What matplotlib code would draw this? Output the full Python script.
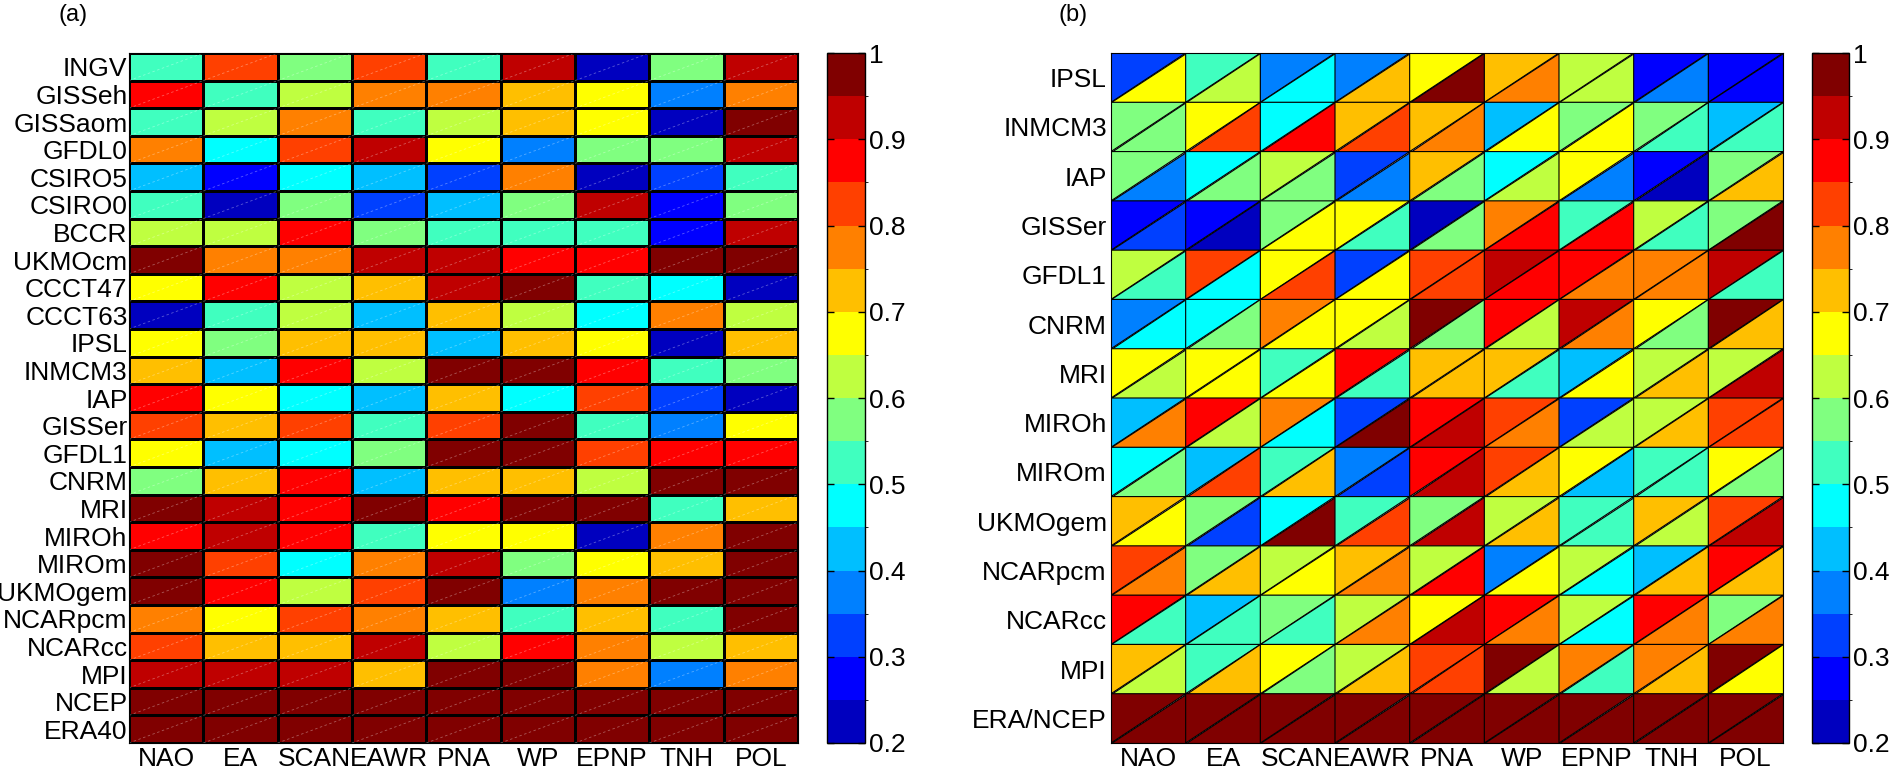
import numpy as np
import matplotlib
matplotlib.use("Agg")
import matplotlib.pyplot as plt
import matplotlib.tri as mtri
from matplotlib.colors import ListedColormap, BoundaryNorm

plt.rcParams['font.family'] = ['Liberation Sans', 'DejaVu Sans']

# ---- data ----
indices = ['NAO', 'EA', 'SCAN', 'EAWR', 'PNA', 'WP', 'EPNP', 'TNH', 'POL']

models_a = ['INGV', 'GISSeh', 'GISSaom', 'GFDL0', 'CSIRO5', 'CSIRO0', 'BCCR',
            'UKMOcm', 'CCCT47', 'CCCT63', 'IPSL', 'INMCM3', 'IAP', 'GISSer',
            'GFDL1', 'CNRM', 'MRI', 'MIROh', 'MIROm', 'UKMOgem', 'NCARpcm',
            'NCARcc', 'MPI', 'NCEP', 'ERA40']

vals_a = [
    [0.52, 0.82, 0.57, 0.82, 0.52, 0.92, 0.22, 0.57, 0.92],
    [0.87, 0.52, 0.62, 0.77, 0.77, 0.72, 0.67, 0.37, 0.77],
    [0.52, 0.62, 0.77, 0.52, 0.62, 0.72, 0.67, 0.22, 0.97],
    [0.77, 0.47, 0.82, 0.92, 0.67, 0.37, 0.57, 0.57, 0.92],
    [0.42, 0.27, 0.47, 0.42, 0.32, 0.77, 0.22, 0.32, 0.52],
    [0.52, 0.22, 0.57, 0.32, 0.42, 0.57, 0.92, 0.27, 0.57],
    [0.62, 0.62, 0.87, 0.57, 0.52, 0.52, 0.52, 0.27, 0.92],
    [0.97, 0.77, 0.77, 0.92, 0.92, 0.87, 0.87, 0.97, 0.97],
    [0.67, 0.87, 0.62, 0.72, 0.92, 0.97, 0.52, 0.47, 0.22],
    [0.22, 0.52, 0.62, 0.42, 0.72, 0.62, 0.47, 0.77, 0.62],
    [0.67, 0.57, 0.72, 0.72, 0.42, 0.72, 0.67, 0.22, 0.72],
    [0.72, 0.42, 0.87, 0.62, 0.97, 0.97, 0.87, 0.52, 0.57],
    [0.87, 0.67, 0.47, 0.42, 0.72, 0.47, 0.82, 0.32, 0.22],
    [0.82, 0.72, 0.82, 0.52, 0.82, 0.97, 0.52, 0.37, 0.67],
    [0.67, 0.42, 0.47, 0.57, 0.97, 0.97, 0.82, 0.87, 0.87],
    [0.57, 0.72, 0.87, 0.42, 0.72, 0.72, 0.62, 0.97, 0.97],
    [0.97, 0.92, 0.87, 0.97, 0.87, 0.97, 0.97, 0.52, 0.72],
    [0.87, 0.92, 0.87, 0.52, 0.67, 0.67, 0.22, 0.77, 0.97],
    [0.97, 0.82, 0.47, 0.77, 0.92, 0.57, 0.67, 0.72, 0.97],
    [0.97, 0.87, 0.62, 0.82, 0.97, 0.37, 0.77, 0.97, 0.97],
    [0.77, 0.67, 0.82, 0.77, 0.72, 0.52, 0.72, 0.52, 0.97],
    [0.82, 0.72, 0.72, 0.92, 0.62, 0.87, 0.77, 0.62, 0.72],
    [0.92, 0.92, 0.92, 0.72, 0.97, 0.97, 0.77, 0.37, 0.77],
    [0.99, 0.99, 0.99, 0.99, 0.99, 0.99, 0.99, 0.99, 0.99],
    [0.99, 0.99, 0.99, 0.99, 0.99, 0.99, 0.99, 0.99, 0.99],
]

models_b = ['IPSL', 'INMCM3', 'IAP', 'GISSer', 'GFDL1', 'CNRM', 'MRI',
            'MIROh', 'MIROm', 'UKMOgem', 'NCARpcm', 'NCARcc', 'MPI', 'ERA/NCEP']

# upper-left triangle of each cell
upper_b = [
    [0.32, 0.52, 0.37, 0.37, 0.67, 0.72, 0.62, 0.27, 0.27],
    [0.57, 0.67, 0.47, 0.72, 0.72, 0.42, 0.57, 0.57, 0.42],
    [0.57, 0.47, 0.62, 0.32, 0.72, 0.47, 0.67, 0.27, 0.57],
    [0.27, 0.27, 0.57, 0.67, 0.22, 0.77, 0.52, 0.62, 0.57],
    [0.62, 0.82, 0.67, 0.32, 0.82, 0.92, 0.87, 0.77, 0.92],
    [0.37, 0.47, 0.77, 0.67, 0.97, 0.87, 0.92, 0.67, 0.97],
    [0.67, 0.67, 0.52, 0.87, 0.72, 0.72, 0.42, 0.62, 0.62],
    [0.42, 0.87, 0.77, 0.32, 0.87, 0.82, 0.32, 0.62, 0.82],
    [0.47, 0.42, 0.52, 0.37, 0.87, 0.82, 0.67, 0.52, 0.67],
    [0.72, 0.57, 0.47, 0.52, 0.57, 0.62, 0.52, 0.72, 0.82],
    [0.82, 0.57, 0.62, 0.72, 0.62, 0.37, 0.62, 0.42, 0.87],
    [0.87, 0.42, 0.57, 0.62, 0.67, 0.87, 0.62, 0.87, 0.57],
    [0.72, 0.52, 0.67, 0.62, 0.82, 0.97, 0.77, 0.77, 0.97],
    [0.99, 0.99, 0.99, 0.99, 0.99, 0.99, 0.99, 0.99, 0.99],
]

# lower-right triangle of each cell
lower_b = [
    [0.67, 0.62, 0.47, 0.72, 0.97, 0.77, 0.62, 0.37, 0.27],
    [0.57, 0.82, 0.87, 0.82, 0.77, 0.67, 0.67, 0.52, 0.52],
    [0.37, 0.57, 0.57, 0.37, 0.57, 0.62, 0.37, 0.22, 0.72],
    [0.32, 0.22, 0.67, 0.52, 0.57, 0.87, 0.87, 0.52, 0.97],
    [0.52, 0.47, 0.82, 0.67, 0.82, 0.87, 0.77, 0.77, 0.52],
    [0.47, 0.57, 0.67, 0.62, 0.57, 0.62, 0.77, 0.57, 0.72],
    [0.62, 0.67, 0.67, 0.52, 0.72, 0.52, 0.67, 0.72, 0.92],
    [0.77, 0.62, 0.47, 0.97, 0.92, 0.77, 0.62, 0.72, 0.82],
    [0.57, 0.82, 0.72, 0.32, 0.92, 0.72, 0.42, 0.52, 0.57],
    [0.67, 0.32, 0.97, 0.82, 0.92, 0.72, 0.52, 0.62, 0.92],
    [0.77, 0.72, 0.67, 0.77, 0.87, 0.67, 0.47, 0.72, 0.72],
    [0.52, 0.52, 0.52, 0.77, 0.92, 0.77, 0.47, 0.77, 0.77],
    [0.62, 0.72, 0.57, 0.72, 0.82, 0.62, 0.52, 0.72, 0.67],
    [0.99, 0.99, 0.99, 0.99, 0.99, 0.99, 0.99, 0.99, 0.99],
]

cbar_ticks = [0.2, 0.3, 0.4, 0.5, 0.6, 0.7, 0.8, 0.9, 1.0]

# matlab jet(16)
jet16 = [(0, 0, 0.75), (0, 0, 1), (0, 0.25, 1), (0, 0.5, 1), (0, 0.75, 1),
         (0, 1, 1), (0.25, 1, 0.75), (0.5, 1, 0.5), (0.75, 1, 0.25), (1, 1, 0),
         (1, 0.75, 0), (1, 0.5, 0), (1, 0.25, 0), (1, 0, 0), (0.75, 0, 0),
         (0.5, 0, 0)]
cmap = ListedColormap(jet16)
norm = BoundaryNorm(np.linspace(0.2, 1.0, 17), cmap.N)

W, H = 1892, 770
fig = plt.figure(figsize=(W / 100, H / 100), dpi=100)
FS = 19

def fx(px):
    return px / W

def fy(px):
    return px / H

bot = fy(H - 743)
hgt = fy(690)

# ---- panel (a) ----
ax1 = fig.add_axes([fx(129), bot, fx(669), hgt])
A = np.array(vals_a)
nr, nc = A.shape
m1 = ax1.pcolormesh(np.arange(nc + 1), np.arange(nr + 1), A, cmap=cmap, norm=norm,
                    edgecolors='k', linewidth=1.0)
# faint diagonal inside each cell
dx, dy = [], []
for r in range(nr):
    for c in range(nc):
        dx += [c, c + 1, np.nan]
        dy += [r + 1, r, np.nan]
ax1.plot(dx, dy, color='white', lw=0.6, ls=(0, (3, 3)), alpha=0.35)
ax1.set_xlim(0, nc)
ax1.set_ylim(nr, 0)
ax1.set_xticks(np.arange(nc) + 0.5)
ax1.set_xticklabels(indices)
ax1.set_yticks(np.arange(nr) + 0.5)
ax1.set_yticklabels(models_a)
ax1.tick_params(axis='x', length=0, labelsize=FS, pad=3)
ax1.tick_params(axis='y', length=0, labelsize=FS, pad=1)

cax1 = fig.add_axes([fx(827), bot, fx(38), hgt])
cb1 = fig.colorbar(m1, cax=cax1, ticks=cbar_ticks)

# ---- panel (b) ----
ax2 = fig.add_axes([fx(1111), bot, fx(672), hgt])
U = np.array(upper_b)
L = np.array(lower_b)
nr2, nc2 = U.shape
gx, gy = np.meshgrid(np.arange(nc2 + 1), np.arange(nr2 + 1))
px = gx.ravel()
py = gy.ravel()

def pid(r, c):
    return r * (nc2 + 1) + c

tris, face = [], []
for r in range(nr2):
    for c in range(nc2):
        tris.append([pid(r, c), pid(r + 1, c), pid(r, c + 1)])
        face.append(U[r, c])
        tris.append([pid(r + 1, c), pid(r + 1, c + 1), pid(r, c + 1)])
        face.append(L[r, c])
tri = mtri.Triangulation(px, py, np.array(tris))
m2 = ax2.tripcolor(tri, facecolors=np.array(face), cmap=cmap, norm=norm,
                   edgecolors='k', linewidth=0.8)
ax2.set_xlim(0, nc2)
ax2.set_ylim(nr2, 0)
ax2.set_xticks(np.arange(nc2) + 0.5)
ax2.set_xticklabels(indices)
ax2.set_yticks(np.arange(nr2) + 0.5)
ax2.set_yticklabels(models_b)
ax2.tick_params(length=0, labelsize=FS, pad=3)

cax2 = fig.add_axes([fx(1812), bot, fx(37), hgt])
cb2 = fig.colorbar(m2, cax=cax2, ticks=cbar_ticks)

for cb in (cb1, cb2):
    cb.ax.set_yticklabels(['0.2', '0.3', '0.4', '0.5', '0.6', '0.7', '0.8', '0.9', '1'])
    cb.ax.tick_params(direction='in', length=5, width=1, left=True, right=True,
                      labelsize=FS, pad=3)
    cb.outline.set_linewidth(1)

fig.text(fx(73), 1 - fy(15), '(a)', fontsize=17, ha='center', va='center')
fig.text(fx(1073), 1 - fy(15), '(b)', fontsize=17, ha='center', va='center')

fig.savefig('out.png', dpi=100)
